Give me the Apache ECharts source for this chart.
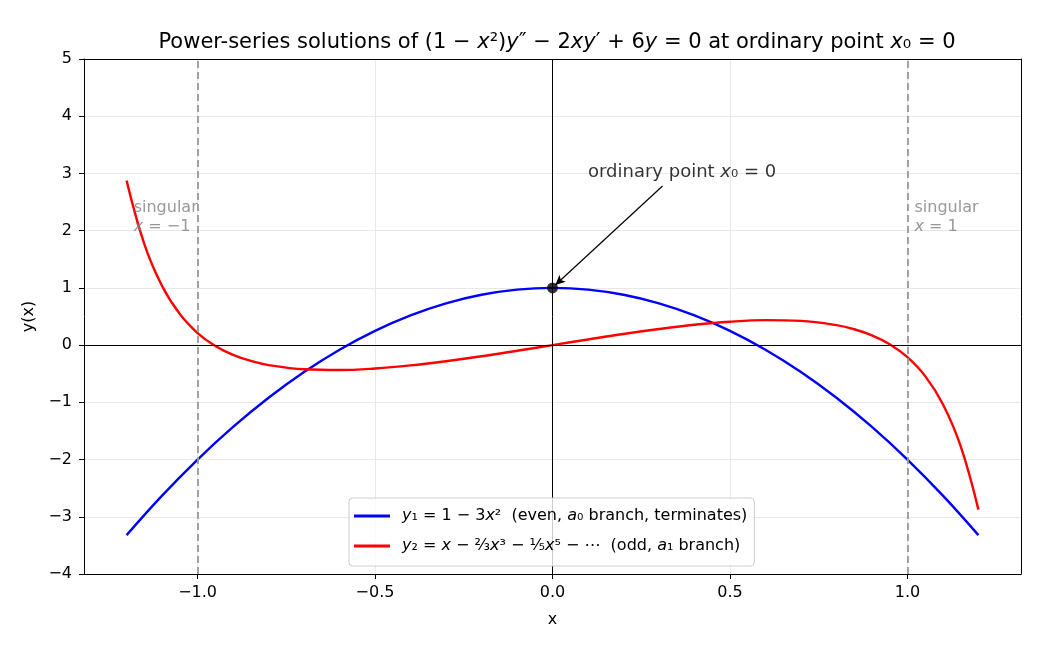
<!DOCTYPE html>
<html>
<head>
<meta charset="utf-8">
<script src="https://cdn.jsdelivr.net/npm/echarts@6/dist/echarts.min.js"></script>
<style>
  html, body { margin: 0; padding: 0; background: #fff; }
  #chart { width: 1040px; height: 650px; }
</style>
</head>
<body>
<div id="chart"></div>
<script>
// y1 = 1 - 3x^2, read at steps of 0.1
const xsEven = [-1.2, -1.1, -1.0, -0.9, -0.8, -0.7, -0.6, -0.5, -0.4, -0.3, -0.2, -0.1, 0,
  0.1, 0.2, 0.3, 0.4, 0.5, 0.6, 0.7, 0.8, 0.9, 1.0, 1.1, 1.2];
const yEven = [-3.32, -2.63, -2.0, -1.43, -0.92, -0.47, -0.08, 0.25, 0.52, 0.73, 0.88, 0.97, 1.0,
  0.97, 0.88, 0.73, 0.52, 0.25, -0.08, -0.47, -0.92, -1.43, -2.0, -2.63, -3.32];

// y2 odd branch (truncated series), denser near the ends
const xsOdd = [-1.2, -1.15, -1.1, -1.05, -1.0, -0.95, -0.9, -0.85, -0.8, -0.7, -0.6, -0.5, -0.4,
  -0.3, -0.2, -0.1, 0, 0.1, 0.2, 0.3, 0.4, 0.5, 0.6, 0.7, 0.8, 0.85, 0.9, 0.95, 1.0, 1.05, 1.1, 1.15, 1.2];
const yOdd = [2.875, 1.766, 1.033, 0.542, 0.211, -0.015, -0.171, -0.277, -0.349, -0.423, -0.436, -0.409, -0.355,
  -0.281, -0.195, -0.099, 0, 0.099, 0.195, 0.281, 0.355, 0.409, 0.436, 0.423, 0.349, 0.277, 0.171, 0.015,
  -0.211, -0.542, -1.033, -1.766, -2.875];

const yTicks = [-4, -3, -2, -1, 0, 1, 2, 3, 4, 5];
const xRange = [-1.32, 1.32];
const singularX = [-1, 1];
const ordinaryPoint = [0, 1];
const arrowFrom = [0.31, 2.78];
const arrowTo = [0.008, 1.05];
const ordinaryLabelAt = [0.1, 3.0];
const singularLabelAt = [[-1.18, 2.0], [1.02, 2.0]];

const nameEven = 'y1';
const nameOdd = 'y2';
const FONT = 'DejaVu Sans';

const pair = (xs, ys) => xs.map((x, i) => [x, ys[i]]);
const minus = (v) => String(v).replace('-', '\u2212');

const chart = echarts.init(document.getElementById('chart'), null, { renderer: 'canvas' });

// plain spine for the top and right sides of the box
const spine = {
  axisLine: { show: true, onZero: false, lineStyle: { color: '#000', width: 1 } },
  axisTick: { show: false },
  axisLabel: { show: false },
  splitLine: { show: false }
};

const option = {
  animation: false,
  backgroundColor: '#fff',
  textStyle: { fontFamily: FONT },
  title: {
    text: 'Power-series solutions of (1 \u2212 {i|x}\u00b2){i|y}\u2033 \u2212 2{i|xy}\u2032 + 6{i|y} = 0 at ordinary point {i|x}\u2080 = 0',
    left: 552,
    textAlign: 'center',
    top: 27,
    textStyle: {
      fontFamily: FONT, fontSize: 21, fontWeight: 'normal', color: '#000',
      rich: { i: { fontFamily: FONT, fontSize: 21, fontStyle: 'italic', color: '#000' } }
    }
  },
  grid: { left: 84, right: 19, top: 59, bottom: 76 },
  legend: {
    orient: 'vertical',
    left: 349,
    bottom: 84,
    z: 10,
    backgroundColor: 'rgba(255,255,255,0.8)',
    borderColor: '#cccccc',
    borderWidth: 1,
    borderRadius: 4,
    padding: [8, 7, 10, 5],
    itemGap: 10,
    itemWidth: 36,
    itemHeight: 3,
    icon: 'rect',
    data: [nameEven, nameOdd],
    formatter: (n) => n === nameEven
      ? '{i|y}\u2081 = 1 \u2212 3{i|x}\u00b2  (even, {i|a}\u2080 branch, terminates)'
      : '{i|y}\u2082 = {i|x} \u2212 \u2154{i|x}\u00b3 \u2212 \u2155{i|x}\u2075 \u2212 \u22ef  (odd, {i|a}\u2081 branch)',
    textStyle: {
      fontFamily: FONT, fontSize: 16, lineHeight: 20, color: '#000', padding: [0, 0, 0, 7],
      rich: { i: { fontFamily: FONT, fontSize: 16, fontStyle: 'italic', color: '#000' } }
    }
  },
  xAxis: [
    {
      type: 'value',
      min: xRange[0],
      max: xRange[1],
      splitNumber: 5,
      name: 'x',
      nameLocation: 'middle',
      nameGap: 38,
      nameTextStyle: { fontFamily: FONT, fontSize: 16, color: '#000' },
      axisLine: { onZero: false, lineStyle: { color: '#000', width: 1 } },
      axisTick: { show: true, length: 5, lineStyle: { color: '#000' } },
      axisLabel: {
        showMinLabel: false, showMaxLabel: false, margin: 11,
        fontFamily: FONT, fontSize: 16, color: '#000',
        formatter: (v) => minus(v.toFixed(1))
      },
      splitLine: { show: true, lineStyle: { color: '#e8e8e8', width: 1 } }
    },
    Object.assign({ type: 'value', position: 'top', min: xRange[0], max: xRange[1] }, spine)
  ],
  yAxis: [
    {
      type: 'value',
      min: yTicks[0],
      max: yTicks[yTicks.length - 1],
      interval: 1,
      name: 'y(x)',
      nameLocation: 'middle',
      nameGap: 47,
      nameTextStyle: { fontFamily: FONT, fontSize: 16, color: '#000' },
      axisLine: { onZero: false, lineStyle: { color: '#000', width: 1 } },
      axisTick: { show: true, length: 5, lineStyle: { color: '#000' } },
      axisLabel: {
        margin: 12, fontFamily: FONT, fontSize: 16, color: '#000',
        formatter: (v) => minus(v)
      },
      splitLine: { show: true, lineStyle: { color: '#e8e8e8', width: 1 } }
    },
    Object.assign({ type: 'value', position: 'right', min: yTicks[0], max: yTicks[yTicks.length - 1] }, spine)
  ],
  series: [
    {
      // reference lines: axes through origin, singular points, annotation arrow
      type: 'line',
      data: [],
      silent: true,
      markLine: {
        silent: true,
        symbol: 'none',
        label: { show: false },
        data: [
          { xAxis: 0, lineStyle: { color: '#000', width: 1, type: 'solid' } },
          { yAxis: 0, lineStyle: { color: '#000', width: 1, type: 'solid' } },
          ...singularX.map((x) => ({ xAxis: x, lineStyle: { color: '#999999', width: 1.8, type: [7, 4] } })),
          [
            { coord: arrowFrom, symbol: 'none', lineStyle: { color: '#000', width: 1.2, type: 'solid' } },
            { coord: arrowTo, symbol: 'arrow', symbolSize: [7, 10] }
          ]
        ]
      }
    },
    {
      name: nameEven,
      type: 'line',
      data: pair(xsEven, yEven),
      smooth: 0.4,
      showSymbol: false,
      color: '#0000ff',
      lineStyle: { color: '#0000ff', width: 2.4 },
      z: 3
    },
    {
      name: nameOdd,
      type: 'line',
      data: pair(xsOdd, yOdd),
      smooth: 0.4,
      showSymbol: false,
      color: '#ff0000',
      lineStyle: { color: '#ff0000', width: 2.4 },
      z: 4
    },
    {
      type: 'scatter',
      data: [ordinaryPoint],
      symbolSize: 11,
      itemStyle: { color: '#000' },
      z: 6
    },
    {
      type: 'scatter',
      symbolSize: 0,
      silent: true,
      data: [
        {
          value: ordinaryLabelAt,
          label: {
            formatter: 'ordinary point {i|x}\u2080 = 0', color: '#000',
            fontSize: 18, lineHeight: 21, offset: [0, 9],
            rich: { i: { fontFamily: FONT, fontSize: 18, fontStyle: 'italic' } }
          }
        },
        { value: singularLabelAt[0], label: { formatter: 'singular\n{i|x} = \u22121', color: '#808080' } },
        { value: singularLabelAt[1], label: { formatter: 'singular\n{i|x} = 1', color: '#808080' } }
      ],
      label: {
        show: true,
        position: [0, 0],
        align: 'left',
        verticalAlign: 'bottom',
        fontFamily: FONT,
        fontSize: 16,
        lineHeight: 19,
        offset: [0, 6],
        rich: { i: { fontFamily: FONT, fontSize: 16, fontStyle: 'italic' } }
      },
      z: 7
    }
  ]
};

chart.setOption(option);
</script>
</body>
</html>
